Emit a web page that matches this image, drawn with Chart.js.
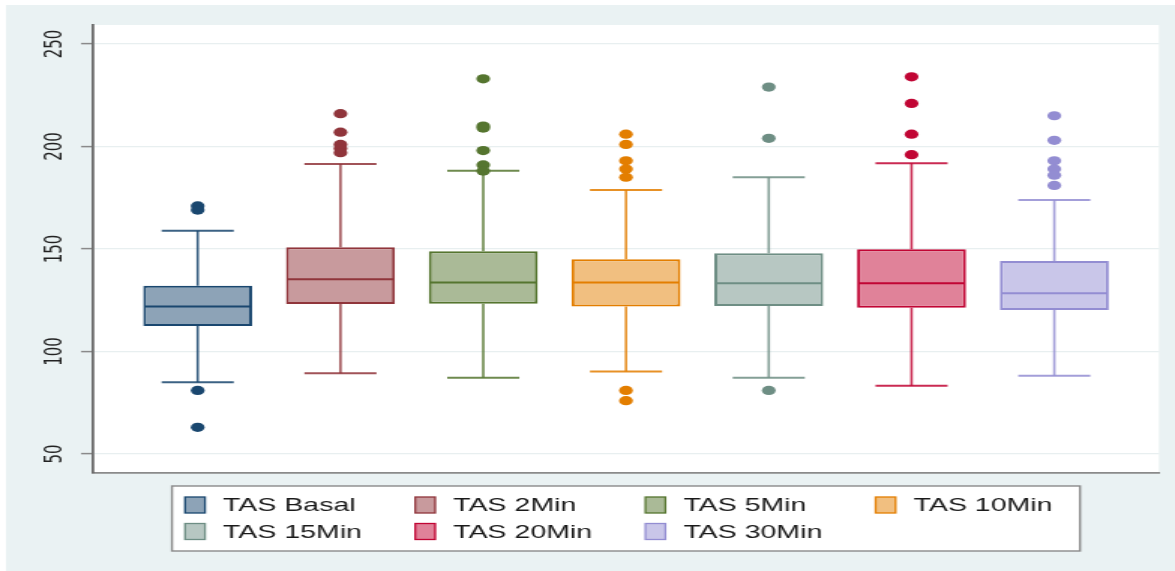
<!DOCTYPE html>
<html>
<head>
<meta charset="utf-8">
<script src="https://cdn.jsdelivr.net/npm/chart.js@4.4.1/dist/chart.umd.min.js"></script>
<style>
  html, body { margin: 0; padding: 0; background: #ffffff; overflow: hidden; }
  #wrap { width: 783px; height: 571px; transform-origin: 0 0; }
  canvas { display: block; }
</style>
</head>
<body>
<div id="wrap"><canvas id="c" width="783" height="571"></canvas></div>
<script>
// Systolic pressure (TAS) at each time point: box-plot summaries
const categories   = ["TAS Basal", "TAS 2Min", "TAS 5Min", "TAS 10Min", "TAS 15Min", "TAS 20Min", "TAS 30Min"];
const lowerWhisker = [85.0, 89.4, 87.2, 90.2, 87.2, 83.3, 88.2];
const q1           = [112.4, 123.2, 123.3, 121.9, 122.2, 121.4, 120.2];
const median       = [122.0, 135.2, 133.6, 133.6, 133.3, 133.3, 128.4];
const q3           = [132.1, 150.8, 148.9, 145.0, 147.9, 149.9, 144.1];
const upperWhisker = [158.9, 191.5, 188.2, 178.8, 185.0, 191.8, 173.9];
const outliers = [
  [171, 169, 81, 63],
  [216, 207, 201, 199, 197],
  [233, 210, 209, 198, 191, 188],
  [206, 201, 193, 189, 185, 81, 76],
  [229, 204, 81],
  [234, 221, 206, 196],
  [215, 203, 193, 189, 186, 181]
];
const yTicks = [50, 100, 150, 200, 250];

// Stata s2color palette: outline colours and half-intensity fills
const lineColors = ["#1a476f", "#90353b", "#55752f", "#e37e00", "#6e8e84", "#c10534", "#938dd2"];
const fillColors = ["#8da3b7", "#c89a9d", "#aaba97", "#f1bf80", "#b7c7c2", "#e08299", "#c9c6e9"];

const STRETCH = 1175 / 783;
document.getElementById('wrap').style.transform = 'scaleX(' + STRETCH + ')';

const BOX_FRACTION = 0.763;   // box width as share of group spacing
const CAP_HALF = 0.2525;      // whisker cap half-width in x units

const backdrop = {
  id: 'backdrop',
  beforeDraw(chart) {
    const { ctx, width, height, chartArea: a } = chart;
    ctx.save();
    ctx.fillStyle = '#ffffff';
    ctx.fillRect(0, 0, width, height);
    ctx.fillStyle = '#eaf2f3';
    ctx.fillRect(4, 5, width - 4, height - 5);
    ctx.fillStyle = '#ffffff';
    ctx.fillRect(a.left, a.top, a.right - a.left, a.bottom - a.top);
    ctx.restore();
  }
};

const boxWhiskers = {
  id: 'boxWhiskers',
  beforeDatasetsDraw(chart) {
    const { ctx, scales: { x, y } } = chart;
    ctx.save();
    ctx.lineCap = 'butt';
    categories.forEach((name, i) => {
      const cx = x.getPixelForValue(i + 1);
      const l = x.getPixelForValue(i + 1 - CAP_HALF);
      const r = x.getPixelForValue(i + 1 + CAP_HALF);
      const yLo = y.getPixelForValue(lowerWhisker[i]);
      const yHi = y.getPixelForValue(upperWhisker[i]);
      ctx.strokeStyle = lineColors[i];
      ctx.globalAlpha = 0.85;
      ctx.lineWidth = 1.6;
      ctx.beginPath();
      ctx.moveTo(cx, yLo); ctx.lineTo(cx, y.getPixelForValue(q1[i]));
      ctx.moveTo(cx, y.getPixelForValue(q3[i])); ctx.lineTo(cx, yHi);
      ctx.stroke();
      ctx.lineWidth = 2;
      ctx.beginPath();
      ctx.moveTo(l, yLo); ctx.lineTo(r, yLo);
      ctx.moveTo(l, yHi); ctx.lineTo(r, yHi);
      ctx.stroke();
    });
    ctx.restore();
  },
  afterDatasetsDraw(chart) {
    const { ctx, scales: { x, y } } = chart;
    ctx.save();
    categories.forEach((name, i) => {
      const half = BOX_FRACTION / 2;
      const l = x.getPixelForValue(i + 1 - half);
      const r = x.getPixelForValue(i + 1 + half);
      const ym = y.getPixelForValue(median[i]);
      ctx.strokeStyle = lineColors[i];
      ctx.lineWidth = 2;
      ctx.beginPath();
      ctx.moveTo(l + 1, ym); ctx.lineTo(r - 1, ym);
      ctx.stroke();
    });
    ctx.restore();
  }
};

const boxLegend = {
  id: 'boxLegend',
  afterDraw(chart) {
    const ctx = chart.ctx;
    const bx = 114.6, by = 486, bw = 605.1, bh = 65;
    const swatchX = 123.3, colStep = 153.4, rowY = 505, rowStep = 26.5;
    const swW = 13.3, swH = 16, textGap = 25.3;
    ctx.save();
    ctx.fillStyle = '#ffffff';
    ctx.fillRect(bx, by, bw, bh);
    ctx.strokeStyle = '#8a8a8a';
    ctx.lineWidth = 1.4;
    ctx.strokeRect(bx, by, bw, bh);
    ctx.font = '19px "Liberation Sans", Arial, sans-serif';
    ctx.textBaseline = 'alphabetic';
    ctx.textAlign = 'left';
    categories.forEach((name, i) => {
      const col = i % 4, row = Math.floor(i / 4);
      const sx = swatchX + col * colStep;
      const cy = rowY + row * rowStep;
      ctx.fillStyle = fillColors[i];
      ctx.fillRect(sx, cy - swH / 2, swW, swH);
      ctx.strokeStyle = lineColors[i];
      ctx.lineWidth = 1.3;
      ctx.strokeRect(sx, cy - swH / 2, swW, swH);
      ctx.fillStyle = '#1a1a1a';
      ctx.fillText(name, sx + textGap, cy + 6.3);
    });
    ctx.restore();
  }
};

const boxDatasets = categories.map((name, i) => ({
  type: 'bar',
  label: name,
  data: [{ x: i + 1, y: [q1[i], q3[i]] }],
  backgroundColor: fillColors[i],
  borderColor: lineColors[i],
  borderWidth: 2,
  borderSkipped: false,
  grouped: false,
  barPercentage: BOX_FRACTION,
  categoryPercentage: 1
}));

const outlierDatasets = categories.map((name, i) => ({
  type: 'scatter',
  label: name + ' outliers',
  data: outliers[i].map(v => ({ x: i + 1, y: v })),
  pointRadius: 4.6,
  pointBackgroundColor: lineColors[i],
  pointBorderWidth: 0,
  pointBorderColor: lineColors[i],
  showLine: false
}));

new Chart(document.getElementById('c'), {
  type: 'bar',
  data: { datasets: [...outlierDatasets, ...boxDatasets] },
  plugins: [backdrop, boxWhiskers, boxLegend],
  options: {
    responsive: false,
    animation: false,
    events: [],
    layout: { padding: { left: 0, top: 25, right: 10.7, bottom: 98 } },
    plugins: { legend: { display: false }, tooltip: { enabled: false } },
    scales: {
      x: {
        type: 'linear',
        min: 0.267,
        max: 7.733,
        offset: false,
        afterBuildTicks(s) { s.ticks = categories.map((c, i) => ({ value: i + 1 })); },
        ticks: { display: false },
        grid: { display: false, drawTicks: false },
        border: { display: true, color: '#8a8a8a', width: 1.8 },
        afterFit(s) { s.height = 0; }
      },
      y: {
        type: 'linear',
        min: 40.73,
        max: 259.27,
        beginAtZero: false,
        afterBuildTicks(s) { s.ticks = yTicks.map(v => ({ value: v })); },
        afterFit(s) { s.width = 62; },
        ticks: {
          minRotation: 90,
          maxRotation: 90,
          crossAlign: 'center',
          padding: 3,
          autoSkip: false,
          color: '#222222',
          font: { family: '"DejaVu Sans", sans-serif', size: 15 },
          callback: v => String(v)
        },
        grid: {
          color: '#e8eff0',
          lineWidth: 1.2,
          tickLength: 8,
          tickColor: '#8a8a8a',
          tickWidth: 1.5
        },
        border: { display: true, color: '#6b6b6b', width: 1.8 }
      }
    }
  }
});
</script>
</body>
</html>
